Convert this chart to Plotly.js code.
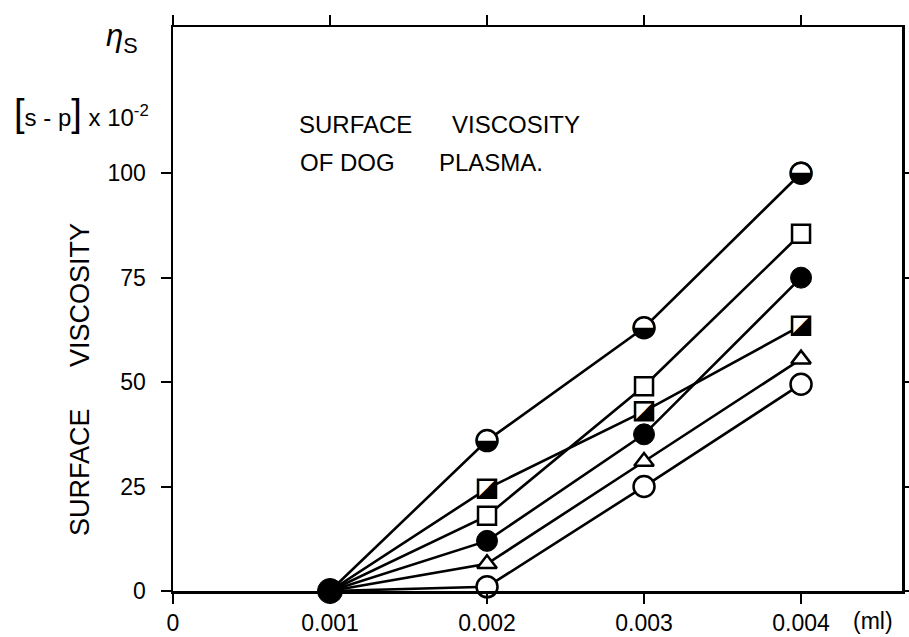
<!DOCTYPE html>
<html>
<head>
<meta charset="utf-8">
<script src="https://cdn.plot.ly/plotly-3.0.1.min.js"></script>
<style>html,body{margin:0;padding:0;background:#fff;}#chart{width:909px;height:637px;}</style>
</head>
<body>
<div id="chart"></div>
<script>
// ---- data ----
const volumes = [0.001, 0.002, 0.003, 0.004];          // ml
const halfCircle   = [0, 36, 63, 100];
const openSquare   = [0, 18, 49, 85.5];
const filledCircle = [0, 12, 37.5, 75];
const halfSquare   = [0, 24.5, 43, 63.5];
const triangle     = [0, 6.5, 31, 55.5];
const openCircle   = [0, 1, 25, 49.5];
const xTickVals  = [0, 0.001, 0.002, 0.003, 0.004];
const xTickText  = ['0', '0.001', '0.002', '0.003', '0.004'];
const yTickVals  = [0, 25, 50, 75, 100];
const yTickText  = ['0', '25', '50', '75', '100'];

// ---- layout helpers ----
const W = 909, H = 637, ML = 173, MR = 7, MT = 27, MB = 46;
const PW = W - ML - MR, PH = H - MT - MB;
const px = x => (x - ML) / PW;
const py = y => (H - MB - y) / PH;
const FONT = 'Liberation Sans, Arial, sans-serif';

const allSeries = [openCircle, triangle, openSquare, halfSquare, halfCircle, filledCircle];
const traces = [];
allSeries.forEach(s => traces.push({
  x: volumes, y: s, mode: 'lines', type: 'scatter', hoverinfo: 'skip',
  line: {color: 'black', width: 2.6}, cliponaxis: false, showlegend: false
}));
// markers after the common starting point (which is drawn as the big filled dot)
function markers(s, symbol, fill, size, extra) {
  return Object.assign({
    x: volumes.slice(1), y: s.slice(1), mode: 'markers', type: 'scatter', hoverinfo: 'skip',
    cliponaxis: false, showlegend: false,
    marker: {symbol: symbol, color: fill, size: size, opacity: 1, line: {color: 'black', width: 2.5}}
  }, extra || {});
}
traces.push(markers(openCircle, 'circle', 'white', 21));
traces.push(markers(triangle, 'triangle-up', 'white', 17));
traces.push(markers(openSquare, 'square', 'white', 18));
traces.push(markers(halfSquare, 'square', 'white', 18, {
  mode: 'markers+text', text: '\u25EA',
  textposition: 'middle center', textfont: {family: 'DejaVu Sans', size: 25, color: 'black'}
}));
traces.push(markers(halfCircle, 'circle', 'white', 21, {
  mode: 'markers+text', text: '\u25D2',
  textposition: 'middle center', textfont: {family: 'DejaVu Sans', size: 29, color: 'black'}
}));
traces.push({
  x: volumes, y: filledCircle, mode: 'markers', type: 'scatter', hoverinfo: 'skip',
  cliponaxis: false, showlegend: false,
  marker: {symbol: 'circle', color: 'black', opacity: 1,
           size: volumes.map((v, i) => i === 0 ? 25 : 21), line: {color: 'black', width: 1}}
});

const axisCommon = {
  showline: true, linecolor: 'black', linewidth: 2.5, mirror: 'ticks',
  ticks: 'outside', ticklen: 10, tickwidth: 2, tickcolor: 'black',
  showgrid: false, zeroline: false, fixedrange: true,
  tickfont: {family: FONT, size: 23, color: 'black'}
};

const ann = (text, x, y, opts) => Object.assign({
  text: text, xref: 'paper', yref: 'paper', x: px(x), y: py(y),
  showarrow: false, font: {family: FONT, size: 24, color: 'black'},
  xanchor: 'center', yanchor: 'middle'
}, opts || {});

const layout = {
  width: W, height: H,
  margin: {l: ML, r: MR, t: MT, b: MB, pad: 0},
  paper_bgcolor: 'white', plot_bgcolor: 'white',
  xaxis: Object.assign({}, axisCommon, {
    range: [0, 0.004643], tickmode: 'array', tickvals: xTickVals, ticktext: xTickText,
    ticklabelstandoff: 0
  }),
  yaxis: Object.assign({}, axisCommon, {
    range: [0, 135], tickmode: 'array', tickvals: yTickVals, ticktext: yTickText,
    ticklabelstandoff: 10
  }),
  annotations: [
    ann('SURFACE', 297, 125, {xanchor: 'left'}),
    ann('VISCOSITY', 450, 125, {xanchor: 'left'}),
    ann('OF DOG', 298, 162, {xanchor: 'left'}),
    ann('PLASMA.', 437, 162, {xanchor: 'left'}),
    ann('(ml)', 873, 621, {font: {family: FONT, size: 23, color: 'black'}}),
    ann('SURFACE', 80, 472, {textangle: -90, font: {family: FONT, size: 27, color: 'black'}}),
    ann('VISCOSITY', 80, 295, {textangle: -90, font: {family: FONT, size: 27, color: 'black'}}),
    ann('<i>η</i><sub>S</sub>', 122, 38, {font: {family: FONT, size: 31, color: 'black'}}),
    ann('<span style="font-size:38px">[</span>s - p<span style="font-size:38px">]</span> x 10<sup>-2</sup>',
        12, 113, {xanchor: 'left'})
  ]
};

Plotly.newPlot('chart', traces, layout, {displayModeBar: false, staticPlot: true});
</script>
</body>
</html>
